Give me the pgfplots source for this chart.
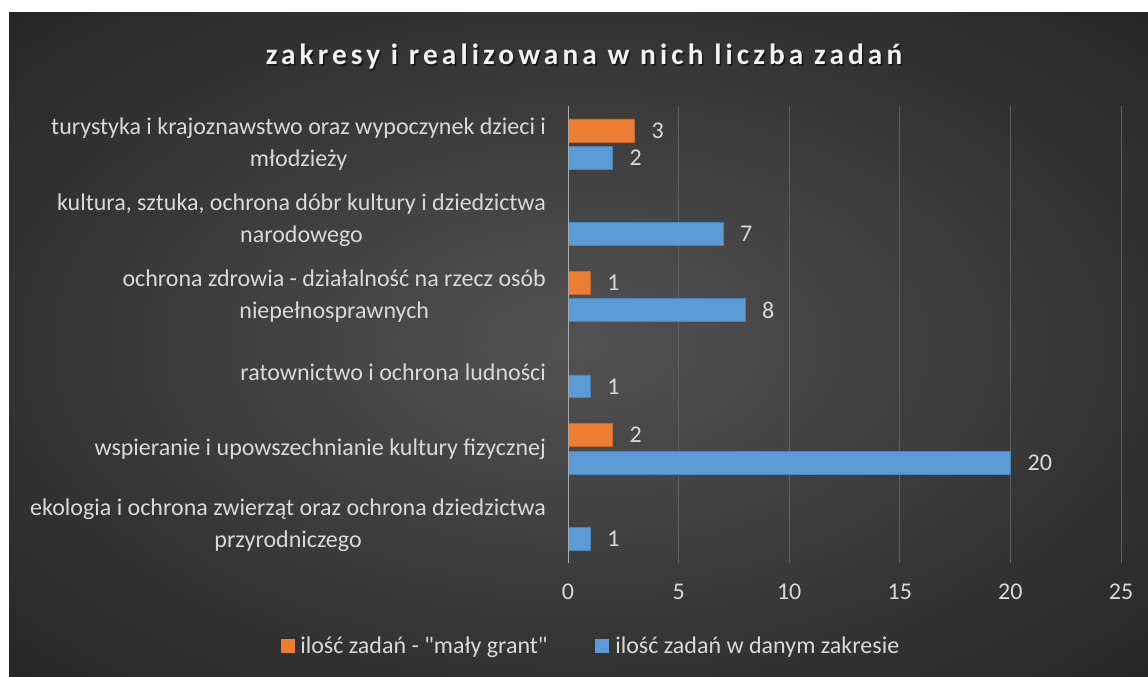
\documentclass[border=0pt]{standalone}
\usepackage{fontspec}
\setmainfont{Carlito}
\newfontfamily\titlefont[LetterSpace=14]{Carlito}
\newfontfamily\nolig[Ligatures=TeXOff]{Carlito}
\usepackage{pgfplots}
\pgfplotsset{compat=1.18}

\definecolor{bgin}{RGB}{82,82,82}
\definecolor{bgmid}{RGB}{50,50,50}
\definecolor{bgout}{RGB}{38,38,38}
\definecolor{txt}{RGB}{217,217,217}
\definecolor{ttl}{RGB}{242,242,242}
\definecolor{grd}{RGB}{95,95,95}
\definecolor{zero}{RGB}{170,170,170}
\definecolor{org}{RGB}{237,125,49}
\definecolor{blu}{RGB}{91,155,213}
\pgfdeclareradialshading{bg}{\pgfpoint{0bp}{0bp}}{%
  color(0bp)=(bgin); color(25bp)=(bgmid); color(36bp)=(bgout); color(50bp)=(bgout)}

\newcommand{\lbl}{\fontsize{18}{24}\selectfont}

\begin{document}
\begin{tikzpicture}
% canvas: 1 px of the reference = 0.75pt
\fill[white] (0pt,0pt) rectangle (861pt,507pt);
\shade[shading=bg] (6.75pt,0pt) rectangle (861pt,497.25pt);

% title with a soft shadow
\node[font=\titlefont\bfseries\fontsize{22}{26}\selectfont, text=black, opacity=0.5]
  at (439.2pt,463pt) {zakresy i realizowana w nich liczba zadań};
\node[font=\titlefont\bfseries\fontsize{22}{26}\selectfont, text=ttl]
  at (438pt,464.25pt) {zakresy i realizowana w nich liczba zadań};

\begin{axis}[
  at={(426pt,84.75pt)}, anchor=south west,
  scale only axis, width=414.75pt, height=342.75pt,
  xbar, bar width=0.3,
  xmin=0, xmax=25, ymin=-0.5, ymax=5.5,
  xtick={0,5,...,25}, ytick={0,...,5},
  yticklabels={
    {ekologia i ochrona zwierząt oraz ochrona dziedzictwa\\przyrodniczego},
    {wspieranie i upowszechnianie kultury fizycznej},
    {ratownictwo i ochrona ludności},
    {ochrona zdrowia - działalność na rzecz osób\\niepełnosprawnych},
    {kultura, sztuka, ochrona dóbr kultury i dziedzictwa\\narodowego},
    {turystyka i krajoznawstwo oraz wypoczynek dzieci i\\młodzieży}},
  /pgf/number format/assume math mode=true,
  yticklabel style={align=center, text=txt, font=\lbl, xshift=-13pt},
  xticklabel style={text=txt, font=\lbl, yshift=-12pt},
  major tick length=0pt,
  axis line style={draw=none},
  xmajorgrids, grid style={grd, line width=0.75pt},
  nodes near coords,
  nodes near coords style={text=txt, font=\lbl, anchor=west, inner sep=0pt, xshift=12.75pt},
]
% small grant tasks
\addplot[fill=org, draw=org!85!black, bar shift=0.18] coordinates {
  (2,1) (1,3) (3,5)};
% tasks in the given range
\addplot[fill=blu, draw=blu!85!black, bar shift=-0.18] coordinates {
  (1,0) (20,1) (1,2) (8,3) (7,4) (2,5)};
\draw[zero, line width=1pt] (axis cs:0,-0.5) -- (axis cs:0,5.5);
\end{axis}

% legend
\fill[org] (210.4pt,17.25pt) rectangle (220.9pt,27.75pt);
\node[anchor=base west, inner sep=0pt, text=txt, font=\lbl] at (225pt,17.25pt)
  {ilość zadań - {\nolig"}mały grant{\nolig"}};
\fill[blu] (446.25pt,17.25pt) rectangle (456.75pt,27.75pt);
\node[anchor=base west, inner sep=0pt, text=txt, font=\lbl] at (461.25pt,17.25pt)
  {ilość zadań w danym zakresie};
\end{tikzpicture}
\end{document}
